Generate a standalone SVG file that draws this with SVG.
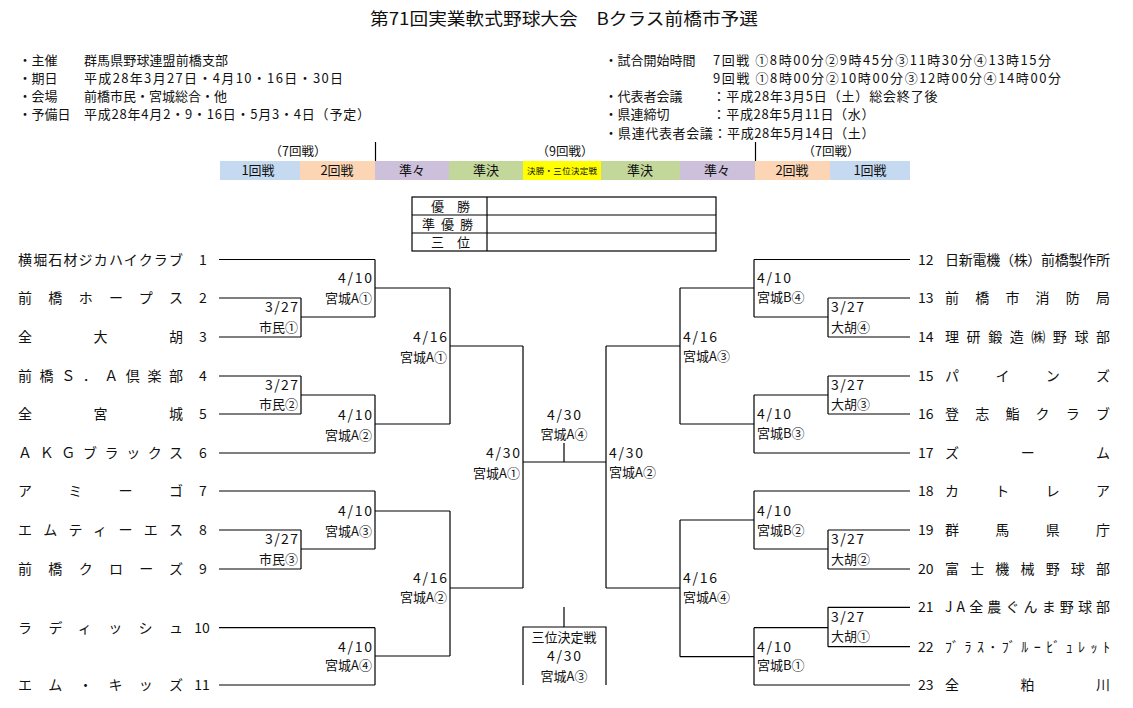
<svg xmlns="http://www.w3.org/2000/svg" width="1133" height="708" viewBox="0 0 1133 708">
<style>
.t{font-family:"Noto Sans CJK JP","Noto Sans CJK SC",sans-serif;fill:#111}
.s13{font-size:13px}
.s14{font-size:14px}
.d{font-size:14px}
.r{text-anchor:end}
.m{text-anchor:middle}
.l{stroke:#000;stroke-width:1.2;fill:none}
</style>
<rect width="1133" height="708" fill="#fff"/>
<g id="title">
<text class="t" x="370" y="25" font-size="17" textLength="388" lengthAdjust="spacingAndGlyphs">第71回実業軟式野球大会　Bクラス前橋市予選</text>
</g>
<g id="info-left" class="t s13">
<text x="18.5" y="64.5">・主催</text><text x="84" y="64.5" textLength="144">群馬県野球連盟前橋支部</text>
<text x="18.5" y="82.8">・期日</text><text x="84" y="82.8" textLength="259">平成28年3月27日・4月10・16日・30日</text>
<text x="18.5" y="101.1">・会場</text><text x="84" y="101.1" textLength="143">前橋市民・宮城総合・他</text>
<text x="18.5" y="119.4">・予備日</text><text x="84" y="119.4" textLength="286">平成28年4月2・9・16日・5月3・4日（予定）</text>
</g>
<g id="info-right" class="t s13">
<text x="604.5" y="64.5">・試合開始時間</text><text x="713" y="64.5" textLength="338">7回戦 ①8時00分②9時45分③11時30分④13時15分</text>
<text x="713" y="82.8" textLength="348">9回戦 ①8時00分②10時00分③12時00分④14時00分</text>
<text x="604.5" y="101.1">・代表者会議</text><text x="712.5" y="101.1" textLength="225">：平成28年3月5日（土）総会終了後</text>
<text x="604.5" y="119.4">・県連締切</text><text x="712.5" y="119.4" textLength="162">：平成28年5月11日（水）</text>
<text x="604.5" y="137.5" textLength="270">・県連代表者会議：平成28年5月14日（土）</text>
</g>
<g id="round-bar">
<rect x="220" y="161" width="80" height="19" fill="#c5d9f1"/>
<rect x="300" y="161" width="75" height="19" fill="#fcd5b4"/>
<rect x="375" y="161" width="74" height="19" fill="#ccc0da"/>
<rect x="449" y="161" width="74" height="19" fill="#c4d79b"/>
<rect x="523" y="161" width="78" height="19" fill="#ffff00"/>
<rect x="601" y="161" width="79" height="19" fill="#c4d79b"/>
<rect x="680" y="161" width="75" height="19" fill="#ccc0da"/>
<rect x="755" y="161" width="75" height="19" fill="#fcd5b4"/>
<rect x="830" y="161" width="80" height="19" fill="#c5d9f1"/>
<line class="l" x1="375.5" y1="142" x2="375.5" y2="161"/>
<line class="l" x1="755.5" y1="142" x2="755.5" y2="161"/>
<g class="t m">
<text x="298" y="156" font-size="12.5">（7回戦）</text>
<text x="565" y="156" font-size="12.5">（9回戦）</text>
<text x="831" y="156" font-size="12.5">（7回戦）</text>
<text x="258" y="175" font-size="13">1回戦</text>
<text x="337" y="175" font-size="13">2回戦</text>
<text x="412" y="175" font-size="13">準々</text>
<text x="486" y="175" font-size="13">準決</text>
<text x="640" y="175" font-size="13">準決</text>
<text x="717" y="175" font-size="13">準々</text>
<text x="792" y="175" font-size="13">2回戦</text>
<text x="870" y="175" font-size="13">1回戦</text>
</g>
<text class="t" x="527" y="174" font-size="8.5" textLength="70">決勝・三位決定戦</text>
</g>
<g id="results-table">
<rect class="l" x="412" y="197" width="304" height="54"/>
<line class="l" x1="412" y1="215" x2="716" y2="215"/>
<line class="l" x1="412" y1="233" x2="716" y2="233"/>
<line class="l" x1="487" y1="197" x2="487" y2="251"/>
<g class="t s13">
<text x="431" y="211" textLength="39">優　勝</text>
<text x="422" y="229" textLength="51">準優勝</text>
<text x="431" y="247" textLength="39">三　位</text>
</g>
</g>
<g id="connectors" class="l">
<path d="M219,259.5H375M219,298H301M219,337H301M301,298V337M301,317H375M375,259.5V317M375,288H450"/>
<path d="M219,376H301M219,414H301M301,376V414M301,395H375M219,453H375M375,395V453M375,424H450M450,288V424M450,346H523"/>
<path d="M219,491H375M219,530H301M219,569H301M301,530V569M301,549H375M375,491V549M375,511H450"/>
<path d="M219,627.7H375M219,685H375M375,627.7V685M375,656H450M450,511V656M450,588H523"/>
<path d="M523,346V588M523,462H606M564,443V462M606,346V588M606,346H680M606,588H680"/>
<path d="M564,607V627M523,685V627H606V685"/>
<path d="M680,288V424M680,288H754M754,259.5V317M754,259.5H910M754,317H828M828,298V337M828,298H910M828,337H910"/>
<path d="M680,424H754M754,395V453M754,395H828M828,376V414M828,376H910M828,414H910M754,453H910"/>
<path d="M680,520V656.7M680,520H754M754,491V549M754,491H910M754,549H828M828,530V569M828,530H910M828,569H910"/>
<path d="M680,656.7H754M754,627.7V685M754,627.7H828M828,607.3V646.7M828,607.3H910M828,646.7H910M754,685H910"/>
</g>
<g class="t s14">
<g id="team-1"><text x="18" y="264.5" textLength="165">横堀石材ジカハイクラブ</text><text class="m" x="203" y="264.5">1</text></g>
<g id="team-2"><text x="18" y="303" textLength="165">前橋ホープス</text><text class="m" x="203" y="303">2</text></g>
<g id="team-3"><text x="18" y="342" textLength="165">全大胡</text><text class="m" x="203" y="342">3</text></g>
<g id="team-4"><text x="18" y="381" textLength="165">前橋Ｓ．Ａ倶楽部</text><text class="m" x="203" y="381">4</text></g>
<g id="team-5"><text x="18" y="419" textLength="165">全宮城</text><text class="m" x="203" y="419">5</text></g>
<g id="team-6"><text x="18" y="458" textLength="165">ＡＫＧブラックス</text><text class="m" x="203" y="458">6</text></g>
<g id="team-7"><text x="18" y="496" textLength="165">アミーゴ</text><text class="m" x="203" y="496">7</text></g>
<g id="team-8"><text x="18" y="535" textLength="165">エムティーエス</text><text class="m" x="203" y="535">8</text></g>
<g id="team-9"><text x="18" y="574" textLength="165">前橋クローズ</text><text class="m" x="203" y="574">9</text></g>
<g id="team-10"><text x="18" y="632.7" textLength="165">ラディッシュ</text><text class="m" x="202" y="632.7">10</text></g>
<g id="team-11"><text x="18" y="690" textLength="165">エム・キッズ</text><text class="m" x="202" y="690">11</text></g>
<g id="team-12"><text x="918" y="264.5">12</text><text x="945" y="264.5" textLength="165">日新電機（株）前橋製作所</text></g>
<g id="team-13"><text x="918" y="303">13</text><text x="945" y="303" textLength="165">前橋市消防局</text></g>
<g id="team-14"><text x="918" y="342">14</text><text x="945" y="342" textLength="165">理研鍛造㈱野球部</text></g>
<g id="team-15"><text x="918" y="381">15</text><text x="945" y="381" textLength="165">パインズ</text></g>
<g id="team-16"><text x="918" y="419">16</text><text x="945" y="419" textLength="165">登志鮨クラブ</text></g>
<g id="team-17"><text x="918" y="458">17</text><text x="945" y="458" textLength="165">ズーム</text></g>
<g id="team-18"><text x="918" y="496">18</text><text x="945" y="496" textLength="165">カトレア</text></g>
<g id="team-19"><text x="918" y="535">19</text><text x="945" y="535" textLength="165">群馬県庁</text></g>
<g id="team-20"><text x="918" y="574">20</text><text x="945" y="574" textLength="165">富士機械野球部</text></g>
<g id="team-21"><text x="918" y="612.3">21</text><text x="945" y="612.3" textLength="165">JA全農ぐんま野球部</text></g>
<g id="team-22"><text x="918" y="651.7">22</text><text x="945" y="651.7" textLength="165">ﾌﾞﾗｽ･ﾌﾞﾙｰﾋﾞｭﾚｯﾄ</text></g>
<g id="team-23"><text x="918" y="690">23</text><text x="945" y="690" textLength="165">全粕川</text></g>
</g>
<g class="t s13">
<g id="m-l1" class="r"><text class="d" x="372" y="282.7" textLength="34">4/10</text><text x="372" y="303">宮城A①</text></g>
<g id="m-l2" class="r"><text class="d" x="298" y="311.7" textLength="33">3/27</text><text x="298" y="331.7">市民①</text></g>
<g id="m-l3" class="r"><text class="d" x="447" y="341.7" textLength="34">4/16</text><text x="447" y="361.7">宮城A①</text></g>
<g id="m-l4" class="r"><text class="d" x="298" y="390" textLength="33">3/27</text><text x="298" y="409.3">市民②</text></g>
<g id="m-l5" class="r"><text class="d" x="372" y="420" textLength="34">4/10</text><text x="372" y="440">宮城A②</text></g>
<g id="m-l6" class="r"><text class="d" x="372" y="515.7" textLength="34">4/10</text><text x="372" y="535.7">宮城A③</text></g>
<g id="m-l7" class="r"><text class="d" x="298" y="544.3" textLength="33">3/27</text><text x="298" y="564">市民③</text></g>
<g id="m-l8" class="r"><text class="d" x="447" y="583" textLength="34">4/16</text><text x="447" y="602.3">宮城A②</text></g>
<g id="m-l9" class="r"><text class="d" x="372" y="651.7" textLength="34">4/10</text><text x="372" y="669.5">宮城A④</text></g>
<g id="m-sf1" class="r"><text class="d" x="520" y="458" textLength="34">4/30</text><text x="520" y="477.7">宮城A①</text></g>
<g id="m-final" class="m"><text class="d" x="564" y="420" textLength="34">4/30</text><text x="564" y="439">宮城A④</text></g>
<g id="m-sf2"><text class="d" x="609" y="458" textLength="34">4/30</text><text x="609" y="477">宮城A②</text></g>
<g id="m-third" class="m"><text x="564" y="641.7">三位決定戦</text><text class="d" x="564" y="661" textLength="34">4/30</text><text x="564" y="681">宮城A③</text></g>
<g id="m-r1"><text class="d" x="757" y="282.7" textLength="34">4/10</text><text x="757" y="302">宮城B④</text></g>
<g id="m-r2"><text class="d" x="831" y="311.7" textLength="33">3/27</text><text x="831" y="331.7">大胡④</text></g>
<g id="m-r3"><text class="d" x="683" y="341.7" textLength="34">4/16</text><text x="683" y="361">宮城A③</text></g>
<g id="m-r4"><text class="d" x="831" y="390" textLength="33">3/27</text><text x="831" y="409">大胡③</text></g>
<g id="m-r5"><text class="d" x="757" y="419.3" textLength="34">4/10</text><text x="757" y="438.3">宮城B③</text></g>
<g id="m-r6"><text class="d" x="757" y="515.7" textLength="34">4/10</text><text x="757" y="535">宮城B②</text></g>
<g id="m-r7"><text class="d" x="831" y="544.3" textLength="33">3/27</text><text x="831" y="564">大胡②</text></g>
<g id="m-r8"><text class="d" x="683" y="583.3" textLength="34">4/16</text><text x="683" y="601.7">宮城A④</text></g>
<g id="m-r9"><text class="d" x="831" y="621.7" textLength="33">3/27</text><text x="831" y="641">大胡①</text></g>
<g id="m-r10"><text class="d" x="757" y="651.7" textLength="34">4/10</text><text x="757" y="670">宮城B①</text></g>
</g>
</svg>
